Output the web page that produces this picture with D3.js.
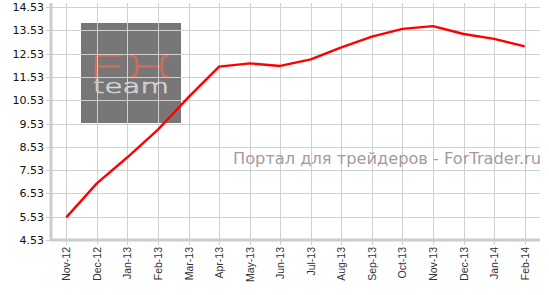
<!DOCTYPE html>
<html><head><meta charset="utf-8">
<script src="https://cdn.jsdelivr.net/npm/d3@7"></script>
<style>body{margin:0;background:#fff}svg{display:block}</style>
</head><body>
<svg id="c" width="549" height="295"></svg>
<script>
const months = ["Nov-12","Dec-12","Jan-13","Feb-13","Mar-13","Apr-13","May-13","Jun-13","Jul-13","Aug-13","Sep-13","Oct-13","Nov-13","Dec-13","Jan-14","Feb-14"];
const values = [5.50,6.96,8.08,9.27,10.66,11.97,12.11,12.00,12.28,12.80,13.26,13.59,13.71,13.37,13.16,12.84];
const yTicks = [4.53,5.53,6.53,7.53,8.53,9.53,10.53,11.53,12.53,13.53,14.53];
const watermark = "Портал для трейдеров - ForTrader.ru";

const svg = d3.select("#c");
const L = 51, R = 540, T = 3, B = 240;
const x = d3.scaleBand().domain(months).range([L, R]);
const y = d3.scaleLinear().domain([4.53, 14.53]).range([B, 7]);
const cx = d => x(d) + x.bandwidth()/2;

// logo box
const g0 = svg.append("g");
g0.append("rect").attr("x",81).attr("y",23).attr("width",100).attr("height",100).attr("fill","#777");
g0.append("path").attr("d","M96,77 V60 Q96,55.5 101,55.5 H122.5 M96,66.5 H120")
  .attr("fill","none").attr("stroke","#d46b56").attr("stroke-width",2.6);
g0.append("path").attr("d","M130,55.5 Q137,55.5 137,62 V71 Q137,77 130,77 M169,55.5 Q162,55.5 162,62 V71 Q162,77 169,77 M137,66.5 H162")
  .attr("fill","none").attr("stroke","#d46b56").attr("stroke-width",2.6);
g0.append("text").attr("x",93).attr("y",92.5).attr("textLength",76).attr("lengthAdjust","spacingAndGlyphs")
  .attr("font-family","DejaVu Sans").attr("font-weight",200).attr("font-size",19).attr("fill","none")
  .attr("stroke","#d8d8d8").attr("stroke-width",0.7)
  .text("team");

// grid
const grid = svg.append("g").attr("stroke","#d0d0d0").attr("stroke-width",1);
grid.selectAll("line.h").data(yTicks).join("line").attr("class","h")
  .attr("x1",46).attr("x2",R).attr("y1",d=>Math.round(y(d))+0.5).attr("y2",d=>Math.round(y(d))+0.5);
grid.selectAll("line.v").data(months).join("line").attr("class","v")
  .attr("y1",T).attr("y2",245).attr("x1",d=>Math.round(cx(d))+0.5).attr("x2",d=>Math.round(cx(d))+0.5);

// axes lines
svg.append("line").attr("x1",51).attr("x2",51).attr("y1",T).attr("y2",B+1).attr("stroke","#cccccc").attr("stroke-width",3);
svg.append("line").attr("x1",50).attr("x2",R).attr("y1",B).attr("y2",B).attr("stroke","#cccccc").attr("stroke-width",3);

// y labels
svg.append("g").selectAll("text").data(yTicks).join("text")
  .attr("x",44).attr("y",d=>y(d)+4).attr("text-anchor","end")
  .attr("font-family","DejaVu Sans").attr("font-size",11).attr("fill","#111")
  .text(d=>d.toFixed(2));

// x labels
svg.append("g").selectAll("text").data(months).join("text")
  .attr("transform",d=>`translate(${cx(d)+4},247) rotate(-90)`).attr("text-anchor","end")
  .attr("font-family","Liberation Sans").attr("font-size",10.5).attr("fill","#333")
  .text(d=>d);

// watermark text
svg.append("text").attr("x",541).attr("y",164).attr("text-anchor","end")
  .attr("textLength",308).attr("lengthAdjust","spacingAndGlyphs")
  .attr("font-family","DejaVu Sans").attr("font-size",16).attr("fill","#a89a9a")
  .text(watermark);

// line
svg.append("path").datum(values)
  .attr("d", d3.line().x((d,i)=>cx(months[i])).y(d=>y(d)))
  .attr("fill","none").attr("stroke","#ff0000").attr("stroke-width",2.4).attr("stroke-linejoin","round");
</script>
</body></html>
